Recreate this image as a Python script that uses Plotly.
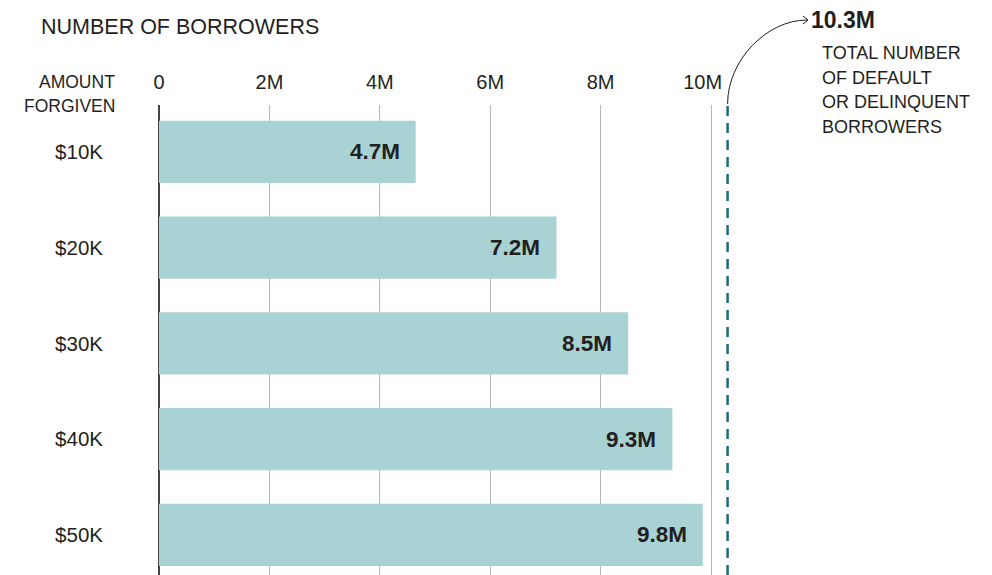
import plotly.graph_objects as go

categories = ["$10K", "$20K", "$30K", "$40K", "$50K"]
borrowers_m = [4.65, 7.2, 8.5, 9.3, 9.85]
bar_labels = ["4.7M", "7.2M", "8.5M", "9.3M", "9.8M"]
tick_vals = [0, 2, 4, 6, 8, 10]
tick_text = ["0", "2M", "4M", "6M", "8M", "10M\u00a0\u00a0\u00a0"]
total_default = 10.3
total_label = "10.3M"

# page body has an 8px margin; reference pixel coords are shifted by OFF
OFF = 8
W, H = 992 - OFF, 575 - OFF
L, R, T, B = 159 - OFF, 252, 105 - OFF, 0
XMAX = 10.525
pw, ph = W - L - R, H - T - B


def px(xpix):
    return (xpix - OFF - L) / pw


def py(ypix):
    return (H - B - (ypix - OFF)) / ph


FONT = "Liberation Sans, Arial, sans-serif"
DARK = "#231f20"

fig = go.Figure()
fig.add_trace(go.Bar(
    x=borrowers_m, y=categories, orientation="h",
    marker=dict(color="#a8d2d3", line=dict(width=0)),
    width=0.65, hoverinfo="skip",
))

annotations = []
for v, c, t in zip(borrowers_m, categories, bar_labels):
    annotations.append(dict(x=v, y=c, xref="x", yref="y", text=t, showarrow=False,
                            xanchor="right", xshift=-14,
                            font=dict(family=FONT, size=22.5, color=DARK, weight="bold")))


def txt(xp, yp, text, size=18, anchor="left", bold=False):
    return dict(x=px(xp), y=py(yp), xref="paper", yref="paper", text=text, showarrow=False,
                xanchor=anchor, yanchor="middle", borderpad=0,
                font=dict(family=FONT, size=size, color=DARK, weight="bold" if bold else "normal"))


annotations += [
    txt(40, 27, "NUMBER OF BORROWERS", 21.5),
    txt(116, 82, "AMOUNT", 17.5, "right"),
    txt(116, 106, "FORGIVEN", 17.5, "right"),
    txt(810, 20, total_label, 23, "left", True),
    txt(821, 53, "TOTAL NUMBER", 18),
    txt(821, 78, "OF DEFAULT", 18),
    txt(821, 102, "OR DELINQUENT", 18),
    txt(821, 127, "BORROWERS", 18),
]

# dashed total line
sx = L + OFF + total_default / XMAX * pw
shapes = [
    dict(type="line", xref="x", yref="paper", x0=total_default, x1=total_default, y0=0, y1=1.003,
         line=dict(color="#1d6b7b", width=2.5, dash="10px,7px")),
]
# curved arrow
x0, y0 = px(sx), py(104)
x1, y1 = px(807), py(20)
c1x, c1y = px(sx), py(60)
c2x, c2y = px(767), py(20)
shapes.append(dict(type="path", xref="paper", yref="paper",
                   path=f"M {x0},{y0} C {c1x},{c1y} {c2x},{c2y} {x1},{y1}",
                   line=dict(color=DARK, width=1)))
shapes.append(dict(type="path", xref="paper", yref="paper",
                   path=f"M {px(803)},{py(16)} L {px(808)},{py(20)} L {px(803)},{py(24)}",
                   line=dict(color=DARK, width=1)))

fig.update_layout(
    width=W, height=H, margin=dict(l=L, r=R, t=T, b=B),
    paper_bgcolor="white", plot_bgcolor="white",
    showlegend=False, bargap=0.35,
    annotations=annotations, shapes=shapes,
    font=dict(family=FONT, color=DARK),
    xaxis=dict(side="top", range=[0, XMAX], tickvals=tick_vals, ticktext=tick_text,
               showgrid=True, gridcolor="#b5b5b5", gridwidth=1,
               zeroline=True, zerolinecolor="#444444", zerolinewidth=1.5,
               showline=False, ticks="", ticklabelstandoff=11,
               tickfont=dict(family=FONT, size=20, color=DARK), fixedrange=True),
    yaxis=dict(autorange=False, range=[4.42, -0.49], showgrid=False, zeroline=False,
               showline=False, ticks="", ticklabelstandoff=55,
               tickfont=dict(family=FONT, size=20.5, color=DARK), fixedrange=True),
)

fig.write_html("out.html")
